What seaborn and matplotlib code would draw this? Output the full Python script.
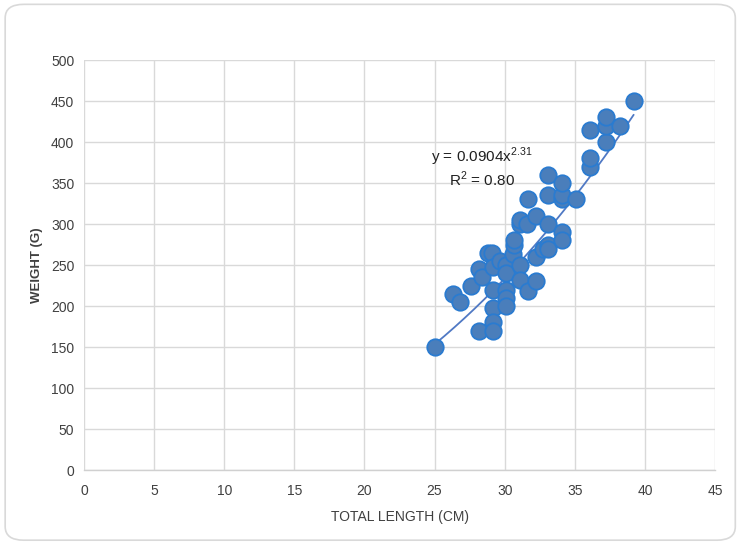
import matplotlib
matplotlib.use("Agg")
import matplotlib.pyplot as plt
from matplotlib.patches import FancyBboxPatch
import numpy as np
import pandas as pd
import seaborn as sns

# Fish measurements: total length (cm) and weight (g)
length_cm = [25.0, 26.3, 26.8, 27.6, 28.2, 28.2, 28.4, 28.8, 29.1, 29.2,
             29.2, 29.2, 29.2, 29.2, 29.7, 30.1, 30.1, 30.1, 30.1, 30.1,
             30.6, 30.7, 30.7, 31.1, 31.1, 31.1, 31.1, 31.6, 31.7, 31.7,
             32.2, 32.2, 32.2, 32.7, 33.1, 33.1, 33.1, 33.1, 33.1, 34.1,
             34.1, 34.1, 34.1, 34.1, 35.1, 36.1, 36.1, 36.1, 37.2, 37.2,
             37.2, 38.2, 39.2]
weight_g = [150, 215, 205, 225, 170, 245, 235, 265, 265, 248,
            220, 198, 180, 170, 255, 250, 240, 220, 210, 200,
            264, 274, 280, 250, 232, 300, 305, 300, 218, 330,
            230, 260, 310, 270, 275, 270, 300, 335, 360, 290,
            280, 330, 335, 350, 330, 370, 380, 415, 400, 420,
            430, 420, 450]

# Power trend line y = a * x^b
coef_a = 0.0904
coef_b = 2.31
r_squared = 0.80

x_ticks = list(range(0, 50, 5))
y_ticks = list(range(0, 550, 50))

sns.set_theme(style="white")
plt.rcParams["font.family"] = ["Liberation Sans", "DejaVu Sans"]
plt.rcParams["mathtext.fontset"] = "custom"
plt.rcParams["mathtext.rm"] = "Liberation Sans"

df = pd.DataFrame({"length": length_cm, "weight": weight_g})

fig = plt.figure(figsize=(7.39, 5.44), dpi=100)
fig.patch.set_facecolor("white")
frame = FancyBboxPatch((0.007, 0.007), 0.988, 0.985,
                       boxstyle="round,pad=0,rounding_size=0.025",
                       transform=fig.transFigure, facecolor="none",
                       edgecolor="#d9d9d9", linewidth=1.2, zorder=-5)
fig.patches.append(frame)

ax = fig.add_axes([0.1137, 0.136, 0.8538, 0.7537])
ax.set_facecolor("none")

xs = np.linspace(min(length_cm), max(length_cm), 200)
ys = coef_a * xs ** coef_b
ax.plot(xs, ys, color="#5079C4", linewidth=1.3, zorder=2)

sns.scatterplot(data=df, x="length", y="weight", ax=ax, s=140,
                color="#4A7EBB", edgecolor="#2A7BD0", linewidth=1.3,
                zorder=3, legend=False)

ax.set_xlim(0, 45)
ax.set_ylim(0, 500)
ax.set_xticks(x_ticks)
ax.set_yticks(y_ticks)
ax.tick_params(axis="both", length=0, labelsize=10, colors="#404040")
ax.tick_params(axis="x", pad=10)
ax.tick_params(axis="y", pad=7)

ax.grid(True, color="#d9d9d9", linewidth=1.0)
ax.set_axisbelow(True)
for side in ["top", "right", "left"]:
    ax.spines[side].set_visible(False)
ax.spines["bottom"].set_color("#d0d0d0")
ax.spines["bottom"].set_linewidth(1.0)

ax.set_xlabel("TOTAL LENGTH (CM)", fontsize=10, color="#404040", labelpad=9)
ax.set_ylabel("WEIGHT (G)", fontsize=9.5, color="#404040", fontweight="bold",
              labelpad=6)

ax.text(24.75, 382, "y = 0.0904x$^{2.31}$", fontsize=11, color="#202020",
        ha="left", va="center")
ax.text(26.0, 354, "R$^{2}$ = %.2f" % r_squared, fontsize=11, color="#202020",
        ha="left", va="center")

fig.savefig("out.png", dpi=100, facecolor="white")
